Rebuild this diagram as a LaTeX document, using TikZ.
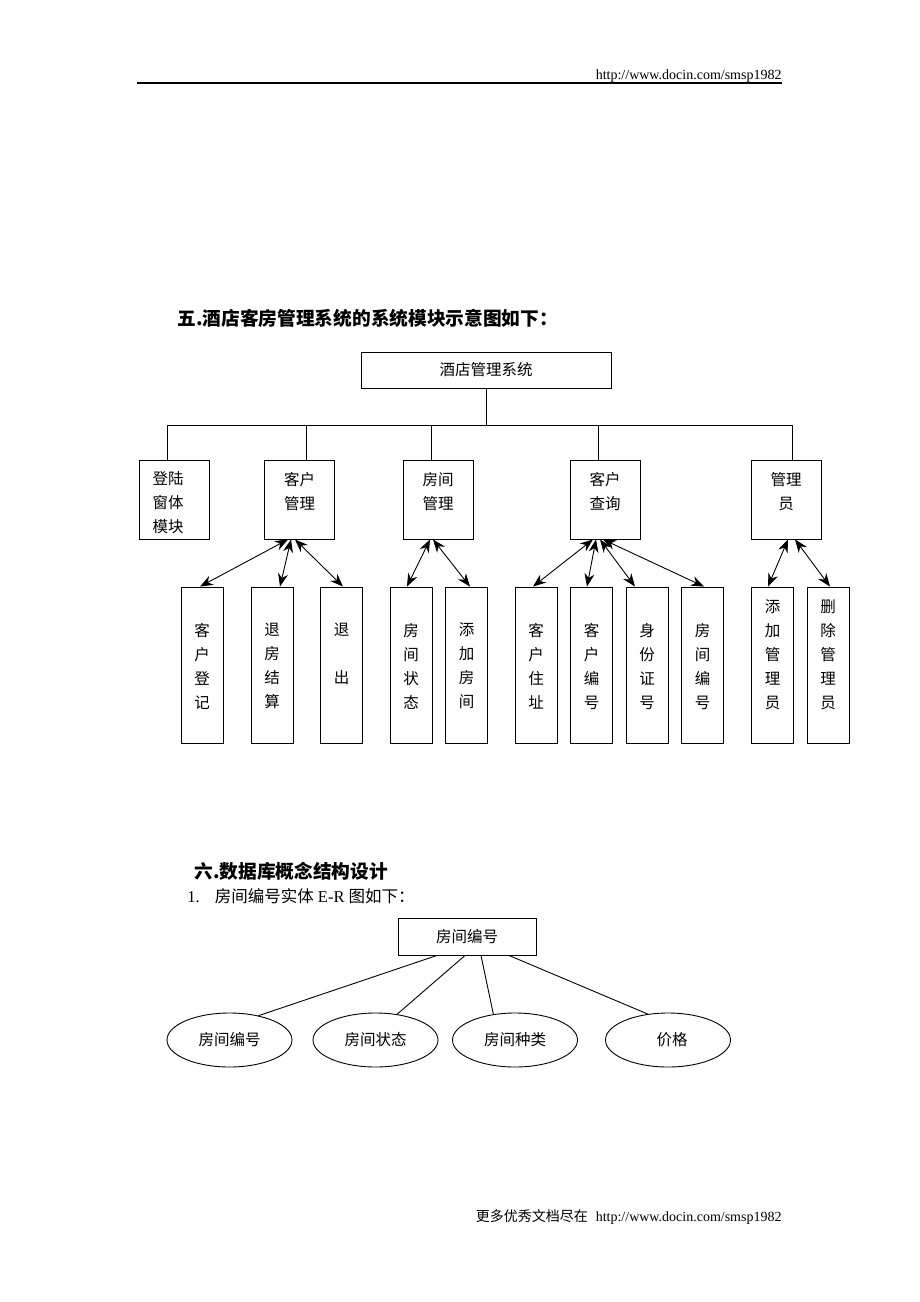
\documentclass[tikz,border=0pt]{standalone}
\usepackage{fontspec}
\setmainfont{Liberation Serif}
\newfontfamily\cjk{Noto Sans CJK SC}
\usetikzlibrary{arrows.meta,shapes.geometric}

\begin{document}
\begin{tikzpicture}[x=1pt, y=-1pt, >={Stealth[length=13pt,width=10pt]}, line width=0.9pt,
    box/.style={draw, rectangle, inner sep=0pt},
    topbox/.style={box, minimum width=250pt, minimum height=36pt, font=\cjk\fontsize{15.5}{18}\selectfont},
    modbox/.style={box, minimum width=70pt, minimum height=79pt},
    leafbox/.style={box, minimum width=42pt, minimum height=156pt},
    attr/.style={draw, ellipse, minimum width=125pt, minimum height=54pt, inner sep=0pt, font=\cjk\fontsize{15.5}{18}\selectfont},
    txt/.style={anchor=north, align=center, inner sep=0pt, font=\cjk\fontsize{15.5}{24}\selectfont},
    modtxt/.style={txt, yshift=-12pt},
    leaftxt/.style={txt, yshift=-13pt},
    leaftxtb/.style={txt, yshift=-36pt},
    head/.style={anchor=west, inner sep=0pt, font=\cjk\bfseries\fontsize{18.7}{20}\selectfont}]
    \useasboundingbox (0,0) rectangle (920,1302);

    % Header
    \node [anchor=base east, inner sep=0pt, font=\fontsize{14}{16}\selectfont] (url) at (782,79) {http://www.docin.com/smsp1982};
    \draw [line width=1.5pt] (137,83) -- (url.base east |- 0,83);

    % Module diagram
    \node [head] (title1) at (177,318) {五.酒店客房管理系统的系统模块示意图如下：};
    \node [topbox] (sys) at (486,370) {酒店管理系统};

    % Modules {dl, cm, fm, cq, gly}
    \node [modbox, label={[modtxt, xshift=-6pt]north:{登陆\\窗体\\模块}}] (dl)  at (174,499.5) {};
    \node [modbox, label={[modtxt]north:{客户\\管理}}]                   (cm)  at (299.5,499.5) {};
    \node [modbox, label={[modtxt]north:{房间\\管理}}]                   (fm)  at (438,499.5) {};
    \node [modbox, label={[modtxt]north:{客户\\查询}}]                   (cq)  at (605,499.5) {};
    \node [modbox, label={[modtxt]north:{管理\\员}}]                     (gly) at (786,499.5) {};

    % Leaves
    \node [leafbox, label={[leaftxtb]north:{客\\户\\登\\记}}]     (kd) at (202,665) {};
    \node [leafbox, label={[leaftxtb]north:{退\\房\\结\\算}}]     (tf) at (272,665) {};
    \node [leafbox, label={[leaftxtb]north:{退\\[24pt]出}}]      (tc) at (341.5,665) {};
    \node [leafbox, label={[leaftxtb]north:{房\\间\\状\\态}}]     (fz) at (411,665) {};
    \node [leafbox, label={[leaftxtb]north:{添\\加\\房\\间}}]     (tj) at (466.5,665) {};
    \node [leafbox, label={[leaftxtb]north:{客\\户\\住\\址}}]     (kz) at (536,665) {};
    \node [leafbox, label={[leaftxtb]north:{客\\户\\编\\号}}]     (kb) at (591.5,665) {};
    \node [leafbox, label={[leaftxtb]north:{身\\份\\证\\号}}]     (sf) at (647,665) {};
    \node [leafbox, label={[leaftxtb]north:{房\\间\\编\\号}}]     (fb) at (702.5,665) {};
    \node [leafbox, label={[leaftxt]north:{添\\加\\管\\理\\员}}]  (tg) at (772.5,665) {};
    \node [leafbox, label={[leaftxt]north:{删\\除\\管\\理\\员}}]  (sg) at (828,665) {};

    % Tree lines
    \coordinate (bus) at (486,425);
    \draw (sys.south) -- (bus);
    \draw ([xshift=-7pt]dl.north)   |- (bus);
    \draw ([xshift=6.5pt]cm.north)  |- (bus);
    \draw ([xshift=-7pt]fm.north)   |- (bus);
    \draw ([xshift=-7pt]cq.north)   |- (bus);
    \draw ([xshift=6pt]gly.north)   |- (bus);

    % Arrows
    \draw [<->] ([xshift=-11.5pt]cm.south) -- ([xshift=-2pt]kd.north);
    \draw [<->] ([xshift=-8.5pt]cm.south)  -- ([xshift=8pt]tf.north);
    \draw [<->] ([xshift=-4.5pt]cm.south)  -- ([xshift=1.5pt]tc.north);
    \draw [<->] ([xshift=-8pt]fm.south)    -- ([xshift=-4pt]fz.north);
    \draw [<->] ([xshift=-5pt]fm.south)    -- ([xshift=3.5pt]tj.north);
    \draw [<->] ([xshift=-12pt]cq.south)   -- ([xshift=-3pt]kz.north);
    \draw [<->] ([xshift=-9pt]cq.south)    -- ([xshift=-4.5pt]kb.north);
    \draw [<->] ([xshift=-5pt]cq.south)    -- ([xshift=-12pt]sf.north);
    \draw [<->] ([xshift=-2pt]cq.south)    -- ([xshift=1.5pt]fb.north);
    \draw [<->] ([xshift=2pt]gly.south)    -- ([xshift=-4.5pt]tg.north);
    \draw [<->] ([xshift=9pt]gly.south)    -- ([xshift=2pt]sg.north);

    % E-R diagram
    \node [head] (title2) at (194,871) {六.数据库概念结构设计};
    \node [anchor=west, inner sep=0pt, font=\fontsize{16.5}{18}\selectfont] (item1) at (187,896)
        {1.\hspace{15pt}{\cjk 房间编号实体} E-R {\cjk 图如下：}};
    \node [topbox, minimum width=138pt, minimum height=37pt] (er) at (467,936.5) {房间编号};
    \node [attr] (e1) at (229.5,1040) {房间编号};
    \node [attr] (e2) at (375.5,1040) {房间状态};
    \node [attr] (e3) at (515,1040)   {房间种类};
    \node [attr] (e4) at (668,1040)   {\hspace{8pt}价格};
    \draw ([xshift=-30pt]er.south) -- (e1.40);
    \draw ([xshift=-2pt]er.south)  -- (e2.50);
    \draw ([xshift=14pt]er.south)  -- (e3.130);
    \draw ([xshift=42pt]er.south)  -- (e4.128);

    % Footer
    \node [anchor=base east, inner sep=0pt, font=\fontsize{14}{16}\selectfont] (foot) at (782,1221)
        {{\cjk 更多优秀文档尽在}\hspace{8pt}http://www.docin.com/smsp1982};
\end{tikzpicture}
\end{document}
